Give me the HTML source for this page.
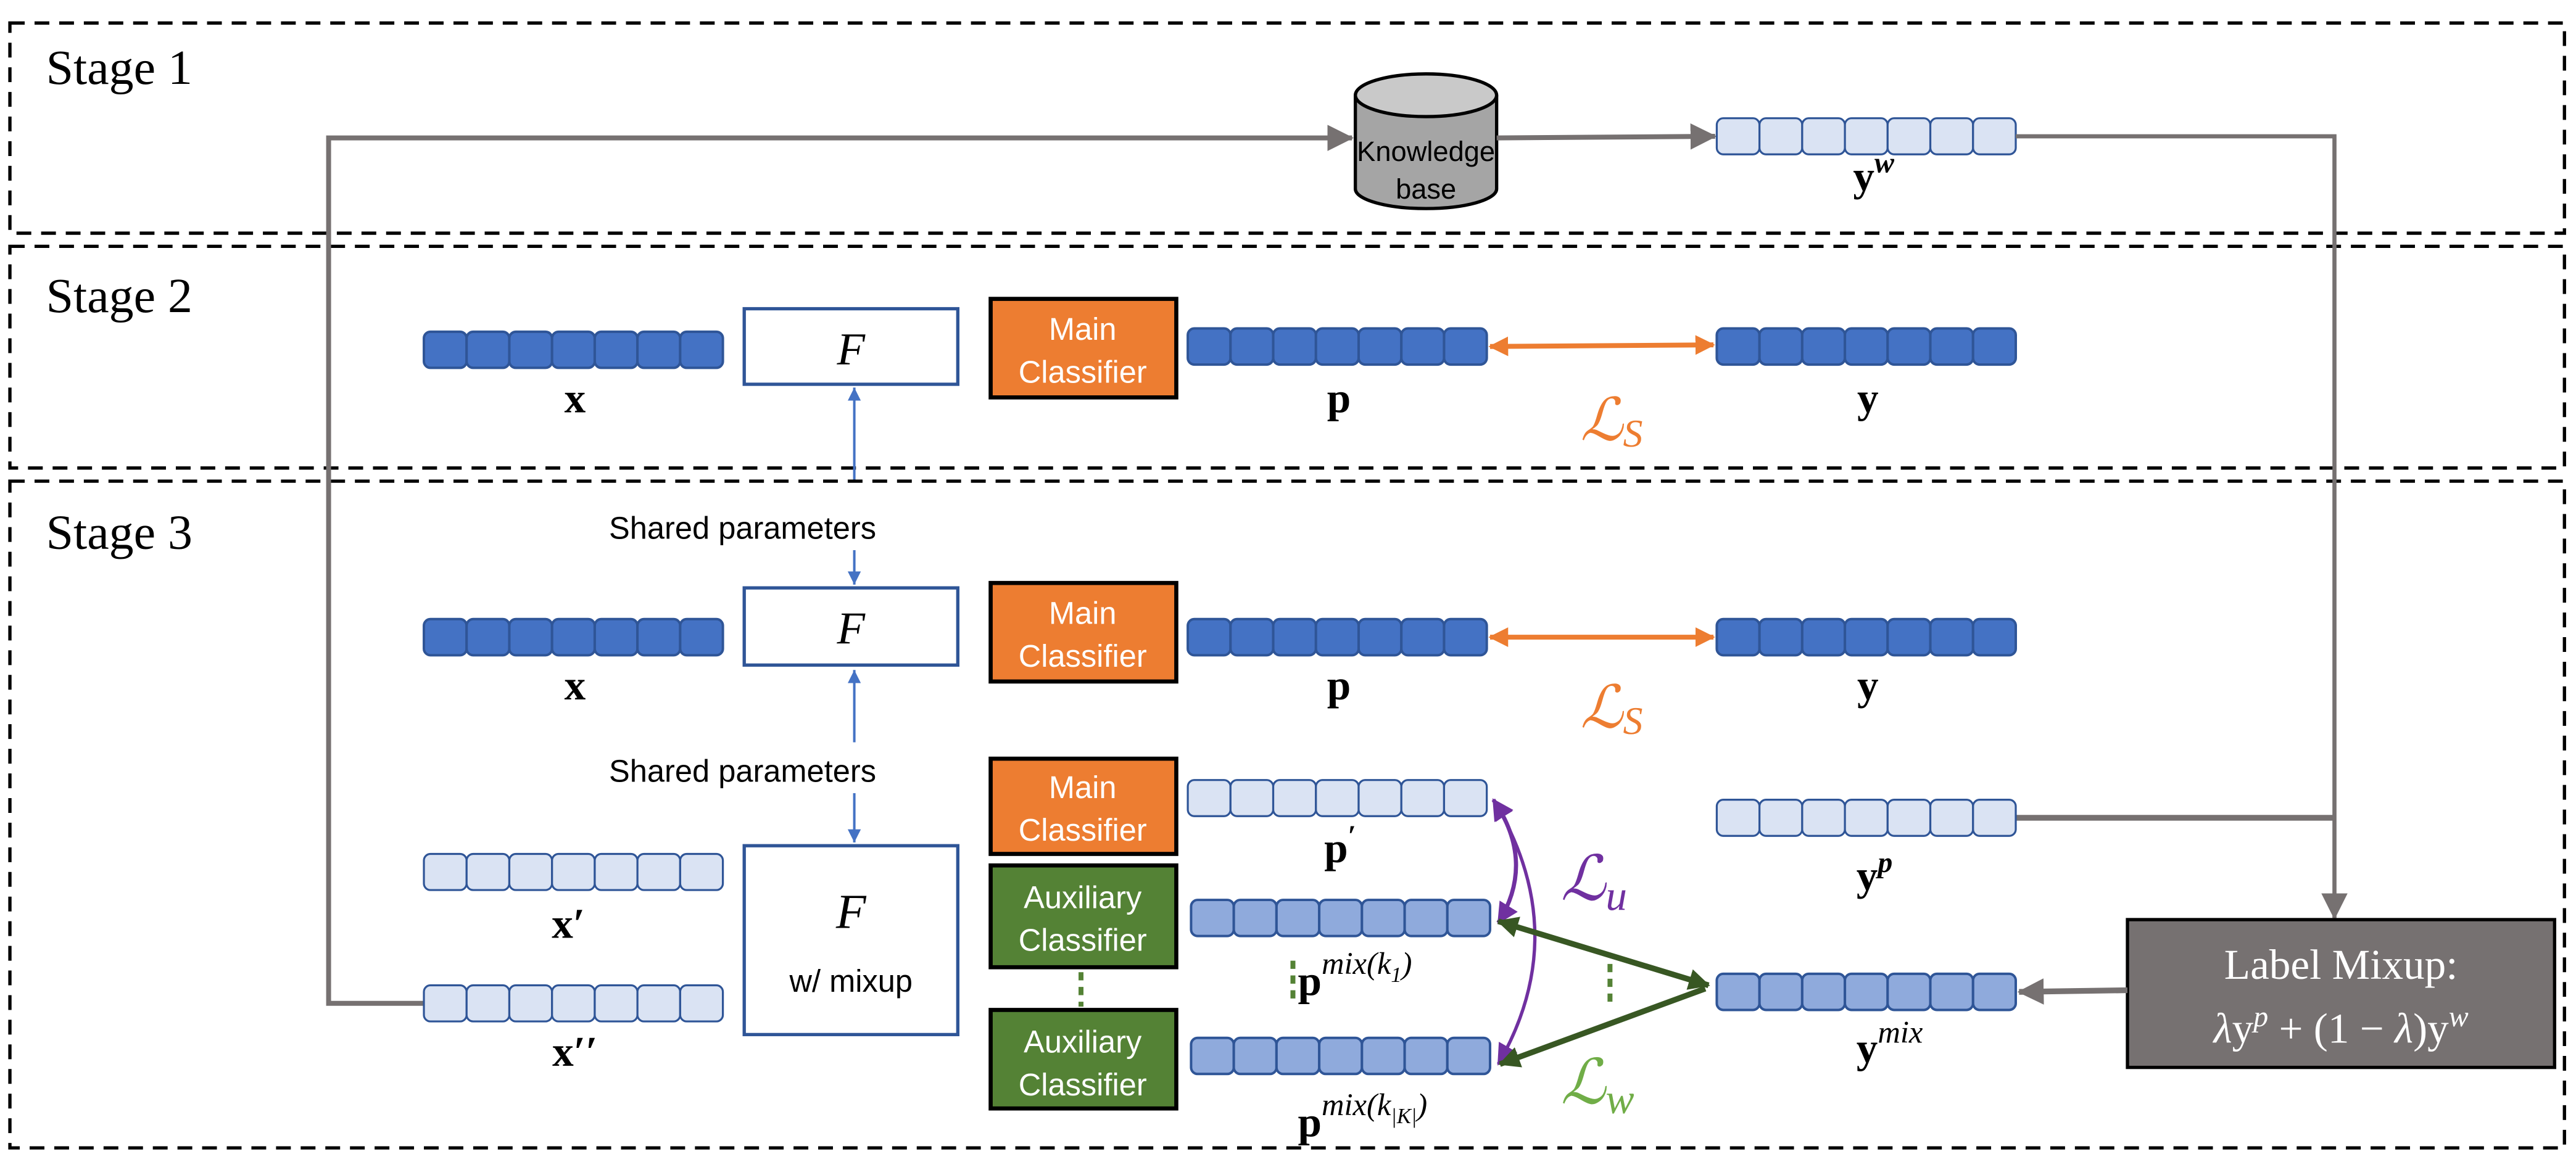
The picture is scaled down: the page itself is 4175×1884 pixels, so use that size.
<!DOCTYPE html>
<html><head><meta charset="utf-8"><style>
html,body{margin:0;padding:0;background:#fff;}
svg{display:block;}
.st{font-family:"Liberation Serif",serif;font-size:30px;fill:#000;}
.sans{font-family:"Liberation Sans",sans-serif;}
.m{font-family:"Liberation Serif",serif;font-weight:bold;font-size:26px;fill:#000;}
.it{font-family:"Liberation Serif",serif;font-style:italic;}
</style></head><body>
<svg width="4175" height="1884" viewBox="0 0 1568 707.6" xmlns="http://www.w3.org/2000/svg">
<defs>
<marker id="agb" markerWidth="16" markerHeight="16" refX="15" refY="8" orient="auto" markerUnits="userSpaceOnUse"><path d="M0,0 L16,8 L0,16 z" fill="#767171"/></marker>
<marker id="ab" markerWidth="8" markerHeight="10" refX="8" refY="5" orient="auto" markerUnits="userSpaceOnUse"><path d="M0,1 L8,5 L0,9 z" fill="#4472c4"/></marker>
<marker id="ao" markerWidth="12" markerHeight="12" refX="11" refY="6" orient="auto-start-reverse" markerUnits="userSpaceOnUse"><path d="M0,0 L12,6 L0,12 z" fill="#ed7d31"/></marker>
<marker id="ap" markerWidth="13" markerHeight="13" refX="12" refY="6.5" orient="auto-start-reverse" markerUnits="userSpaceOnUse"><path d="M0,0 L13,6.5 L0,13 z" fill="#7030a0"/></marker>
<marker id="agr" markerWidth="13" markerHeight="13" refX="12" refY="6.5" orient="auto-start-reverse" markerUnits="userSpaceOnUse"><path d="M0,0 L13,6.5 L0,13 z" fill="#385723"/></marker>
<g id="vd"><rect x="0" y="0" width="26" height="22" rx="4" fill="#4472c4" stroke="#2f5597" stroke-width="1.5"/><rect x="26" y="0" width="26" height="22" rx="4" fill="#4472c4" stroke="#2f5597" stroke-width="1.5"/><rect x="52" y="0" width="26" height="22" rx="4" fill="#4472c4" stroke="#2f5597" stroke-width="1.5"/><rect x="78" y="0" width="26" height="22" rx="4" fill="#4472c4" stroke="#2f5597" stroke-width="1.5"/><rect x="104" y="0" width="26" height="22" rx="4" fill="#4472c4" stroke="#2f5597" stroke-width="1.5"/><rect x="130" y="0" width="26" height="22" rx="4" fill="#4472c4" stroke="#2f5597" stroke-width="1.5"/><rect x="156" y="0" width="26" height="22" rx="4" fill="#4472c4" stroke="#2f5597" stroke-width="1.5"/></g>
<g id="vl"><rect x="0" y="0" width="26" height="22" rx="4" fill="#dae3f3" stroke="#2f5597" stroke-width="1.2"/><rect x="26" y="0" width="26" height="22" rx="4" fill="#dae3f3" stroke="#2f5597" stroke-width="1.2"/><rect x="52" y="0" width="26" height="22" rx="4" fill="#dae3f3" stroke="#2f5597" stroke-width="1.2"/><rect x="78" y="0" width="26" height="22" rx="4" fill="#dae3f3" stroke="#2f5597" stroke-width="1.2"/><rect x="104" y="0" width="26" height="22" rx="4" fill="#dae3f3" stroke="#2f5597" stroke-width="1.2"/><rect x="130" y="0" width="26" height="22" rx="4" fill="#dae3f3" stroke="#2f5597" stroke-width="1.2"/><rect x="156" y="0" width="26" height="22" rx="4" fill="#dae3f3" stroke="#2f5597" stroke-width="1.2"/></g>
<g id="vm"><rect x="0" y="0" width="26" height="22" rx="4" fill="#8faadc" stroke="#2f5597" stroke-width="1.5"/><rect x="26" y="0" width="26" height="22" rx="4" fill="#8faadc" stroke="#2f5597" stroke-width="1.5"/><rect x="52" y="0" width="26" height="22" rx="4" fill="#8faadc" stroke="#2f5597" stroke-width="1.5"/><rect x="78" y="0" width="26" height="22" rx="4" fill="#8faadc" stroke="#2f5597" stroke-width="1.5"/><rect x="104" y="0" width="26" height="22" rx="4" fill="#8faadc" stroke="#2f5597" stroke-width="1.5"/><rect x="130" y="0" width="26" height="22" rx="4" fill="#8faadc" stroke="#2f5597" stroke-width="1.5"/><rect x="156" y="0" width="26" height="22" rx="4" fill="#8faadc" stroke="#2f5597" stroke-width="1.5"/></g>
</defs>
<g fill="none" stroke="#000" stroke-width="2" stroke-dasharray="9,6">
<rect x="6" y="14" width="1555" height="128"/>
<rect x="6" y="150" width="1555" height="135"/>
<rect x="6" y="293" width="1555" height="406"/>
</g>
<text class="st" x="28" y="51">Stage 1</text>
<text class="st" x="28" y="190">Stage 2</text>
<text class="st" x="28" y="334">Stage 3</text>

<polyline points="258,611 200,611 200,84 823,84" fill="none" stroke="#767171" stroke-width="3" marker-end="url(#agb)"/>
<path d="M825,58 L825,115 A43,12 0 0 0 911,115 L911,58" fill="#a5a5a5" stroke="#000" stroke-width="2"/>
<ellipse cx="868" cy="58" rx="43" ry="13" fill="#c9c9c9" stroke="#000" stroke-width="2"/>
<text class="sans" x="868" y="98" font-size="17" text-anchor="middle">Knowledge</text>
<text class="sans" x="868" y="121" font-size="17" text-anchor="middle">base</text>
<line x1="911" y1="84" x2="1044" y2="83" stroke="#767171" stroke-width="3" marker-end="url(#agb)"/>
<use href="#vl" x="1045" y="72"/>
<text class="m" x="1128" y="116">y<tspan class="it" font-size="18" dy="-11">w</tspan></text>
<polyline points="1227,83 1421,83 1421,559" fill="none" stroke="#767171" stroke-width="2.5" marker-end="url(#agb)"/>
<line x1="1227" y1="498" x2="1421" y2="498" stroke="#767171" stroke-width="3.5"/>

<use href="#vd" x="258" y="202"/>
<text class="m" x="350" y="251" text-anchor="middle">x</text>
<rect x="453" y="188" width="130" height="46" fill="#fff" stroke="#2f5597" stroke-width="2"/>
<text class="it" x="518" y="222" font-size="28" text-anchor="middle">F</text>
<rect x="603" y="182" width="113" height="60" fill="#ed7d31" stroke="#000" stroke-width="2.5"/>
<text class="sans" x="659" y="207" font-size="19" fill="#fff" text-anchor="middle">Main</text>
<text class="sans" x="659" y="233" font-size="19" fill="#fff" text-anchor="middle">Classifier</text>
<use href="#vd" x="723" y="200"/>
<text class="m" x="815" y="251" text-anchor="middle">p</text>
<line x1="907" y1="211" x2="1043" y2="210" stroke="#ed7d31" stroke-width="3" marker-start="url(#ao)" marker-end="url(#ao)"/>
<use href="#vd" x="1045" y="200"/>
<text class="m" x="1137" y="251" text-anchor="middle">y</text>
<text class="it" x="962" y="268" font-size="36" fill="#ed7d31">ℒ<tspan font-size="24" dy="4">S</tspan></text>
<line x1="520" y1="292" x2="520" y2="236" stroke="#4472c4" stroke-width="1.5" marker-end="url(#ab)"/>
<text class="sans" x="452" y="328" font-size="19" text-anchor="middle">Shared parameters</text>
<line x1="520" y1="335" x2="520" y2="356" stroke="#4472c4" stroke-width="1.5" marker-end="url(#ab)"/>

<use href="#vd" x="258" y="377"/>
<text class="m" x="350" y="426" text-anchor="middle">x</text>
<rect x="453" y="358" width="130" height="47" fill="#fff" stroke="#2f5597" stroke-width="2"/>
<text class="it" x="518" y="392" font-size="28" text-anchor="middle">F</text>
<rect x="603" y="355" width="113" height="60" fill="#ed7d31" stroke="#000" stroke-width="2.5"/>
<text class="sans" x="659" y="380" font-size="19" fill="#fff" text-anchor="middle">Main</text>
<text class="sans" x="659" y="406" font-size="19" fill="#fff" text-anchor="middle">Classifier</text>
<use href="#vd" x="723" y="377"/>
<text class="m" x="815" y="426" text-anchor="middle">p</text>
<line x1="907" y1="388" x2="1043" y2="388" stroke="#ed7d31" stroke-width="3" marker-start="url(#ao)" marker-end="url(#ao)"/>
<use href="#vd" x="1045" y="377"/>
<text class="m" x="1137" y="426" text-anchor="middle">y</text>
<text class="it" x="962" y="443" font-size="36" fill="#ed7d31">ℒ<tspan font-size="24" dy="4">S</tspan></text>
<line x1="520" y1="452" x2="520" y2="408" stroke="#4472c4" stroke-width="1.5" marker-end="url(#ab)"/>
<text class="sans" x="452" y="476" font-size="19" text-anchor="middle">Shared parameters</text>
<line x1="520" y1="483" x2="520" y2="513" stroke="#4472c4" stroke-width="1.5" marker-end="url(#ab)"/>

<use href="#vl" x="258" y="520"/>
<text class="m" x="346" y="571" text-anchor="middle">x′</text>
<use href="#vl" x="258" y="600"/>
<text class="m" x="350" y="649" text-anchor="middle">x′′</text>
<rect x="453" y="515" width="130" height="115" fill="#fff" stroke="#2f5597" stroke-width="2"/>
<text class="it" x="518" y="565" font-size="30" text-anchor="middle">F</text>
<text class="sans" x="518" y="604" font-size="19" text-anchor="middle">w/ mixup</text>

<rect x="603" y="462" width="113" height="58" fill="#ed7d31" stroke="#000" stroke-width="2.5"/>
<text class="sans" x="659" y="486" font-size="19" fill="#fff" text-anchor="middle">Main</text>
<text class="sans" x="659" y="512" font-size="19" fill="#fff" text-anchor="middle">Classifier</text>
<rect x="603" y="527" width="113" height="62" fill="#548235" stroke="#000" stroke-width="2.5"/>
<text class="sans" x="659" y="553" font-size="19" fill="#fff" text-anchor="middle">Auxiliary</text>
<text class="sans" x="659" y="579" font-size="19" fill="#fff" text-anchor="middle">Classifier</text>
<line x1="658" y1="592" x2="658" y2="613" stroke="#548235" stroke-width="3" stroke-dasharray="5,4"/>
<rect x="603" y="615" width="113" height="60" fill="#548235" stroke="#000" stroke-width="2.5"/>
<text class="sans" x="659" y="641" font-size="19" fill="#fff" text-anchor="middle">Auxiliary</text>
<text class="sans" x="659" y="667" font-size="19" fill="#fff" text-anchor="middle">Classifier</text>

<use href="#vl" x="723" y="475"/>
<text class="m" x="806" y="525">p<tspan font-size="18" dy="-10">′</tspan></text>
<use href="#vm" x="725" y="548"/>
<text class="m" x="790" y="606">p<tspan class="it" font-weight="normal" font-size="19" dy="-13">mix(k</tspan><tspan class="it" font-weight="normal" font-size="13" dy="5">1</tspan><tspan class="it" font-weight="normal" font-size="19" dy="-5">)</tspan></text>
<line x1="787" y1="585" x2="787" y2="610" stroke="#548235" stroke-width="3" stroke-dasharray="5,4"/>
<use href="#vm" x="725" y="632"/>
<text class="m" x="790" y="692">p<tspan class="it" font-weight="normal" font-size="19" dy="-13">mix(k</tspan><tspan class="it" font-weight="normal" font-size="13" dy="5">|K|</tspan><tspan class="it" font-weight="normal" font-size="19" dy="-5">)</tspan></text>

<path d="M909,487 Q935,525 912,562" fill="none" stroke="#7030a0" stroke-width="2.5" marker-start="url(#ap)" marker-end="url(#ap)"/>
<path d="M909,487 Q958,568 912,648" fill="none" stroke="#7030a0" stroke-width="2" marker-start="url(#ap)" marker-end="url(#ap)"/>
<text class="it" x="950" y="548" font-size="38" fill="#7030a0">ℒ<tspan font-size="26" dy="6">u</tspan></text>
<line x1="1040" y1="600" x2="912" y2="561" stroke="#385723" stroke-width="3.5" marker-start="url(#agr)" marker-end="url(#agr)"/>
<line x1="1038" y1="602" x2="913" y2="648" stroke="#385723" stroke-width="3.5" marker-end="url(#agr)"/>
<line x1="980" y1="587" x2="980" y2="612" stroke="#548235" stroke-width="3" stroke-dasharray="5,4"/>
<text class="it" x="950" y="672" font-size="38" fill="#70ad47">ℒ<tspan font-size="26" dy="6">w</tspan></text>

<use href="#vl" x="1045" y="487"/>
<text class="m" x="1130" y="542">y<tspan class="it" font-size="18" dy="-11">p</tspan></text>
<use href="#vm" x="1045" y="593"/>
<text class="m" x="1130" y="647">y<tspan class="it" font-weight="normal" font-size="19" dy="-12">mix</tspan></text>

<rect x="1295" y="560" width="260" height="90" fill="#767171" stroke="#000" stroke-width="2"/>
<text x="1425" y="596" font-family="Liberation Serif, serif" font-size="26" fill="#fff" text-anchor="middle">Label Mixup:</text>
<text x="1425" y="635" font-family="Liberation Serif, serif" font-size="26" fill="#fff" text-anchor="middle"><tspan font-style="italic">λ</tspan>y<tspan font-style="italic" font-size="18" dy="-10">p</tspan><tspan dy="10"> + (1 − </tspan><tspan font-style="italic">λ</tspan>)y<tspan font-style="italic" font-size="18" dy="-10">w</tspan></text>
<line x1="1295" y1="603" x2="1229" y2="604" stroke="#767171" stroke-width="3.5" marker-end="url(#agb)"/>
</svg>
</body></html>
